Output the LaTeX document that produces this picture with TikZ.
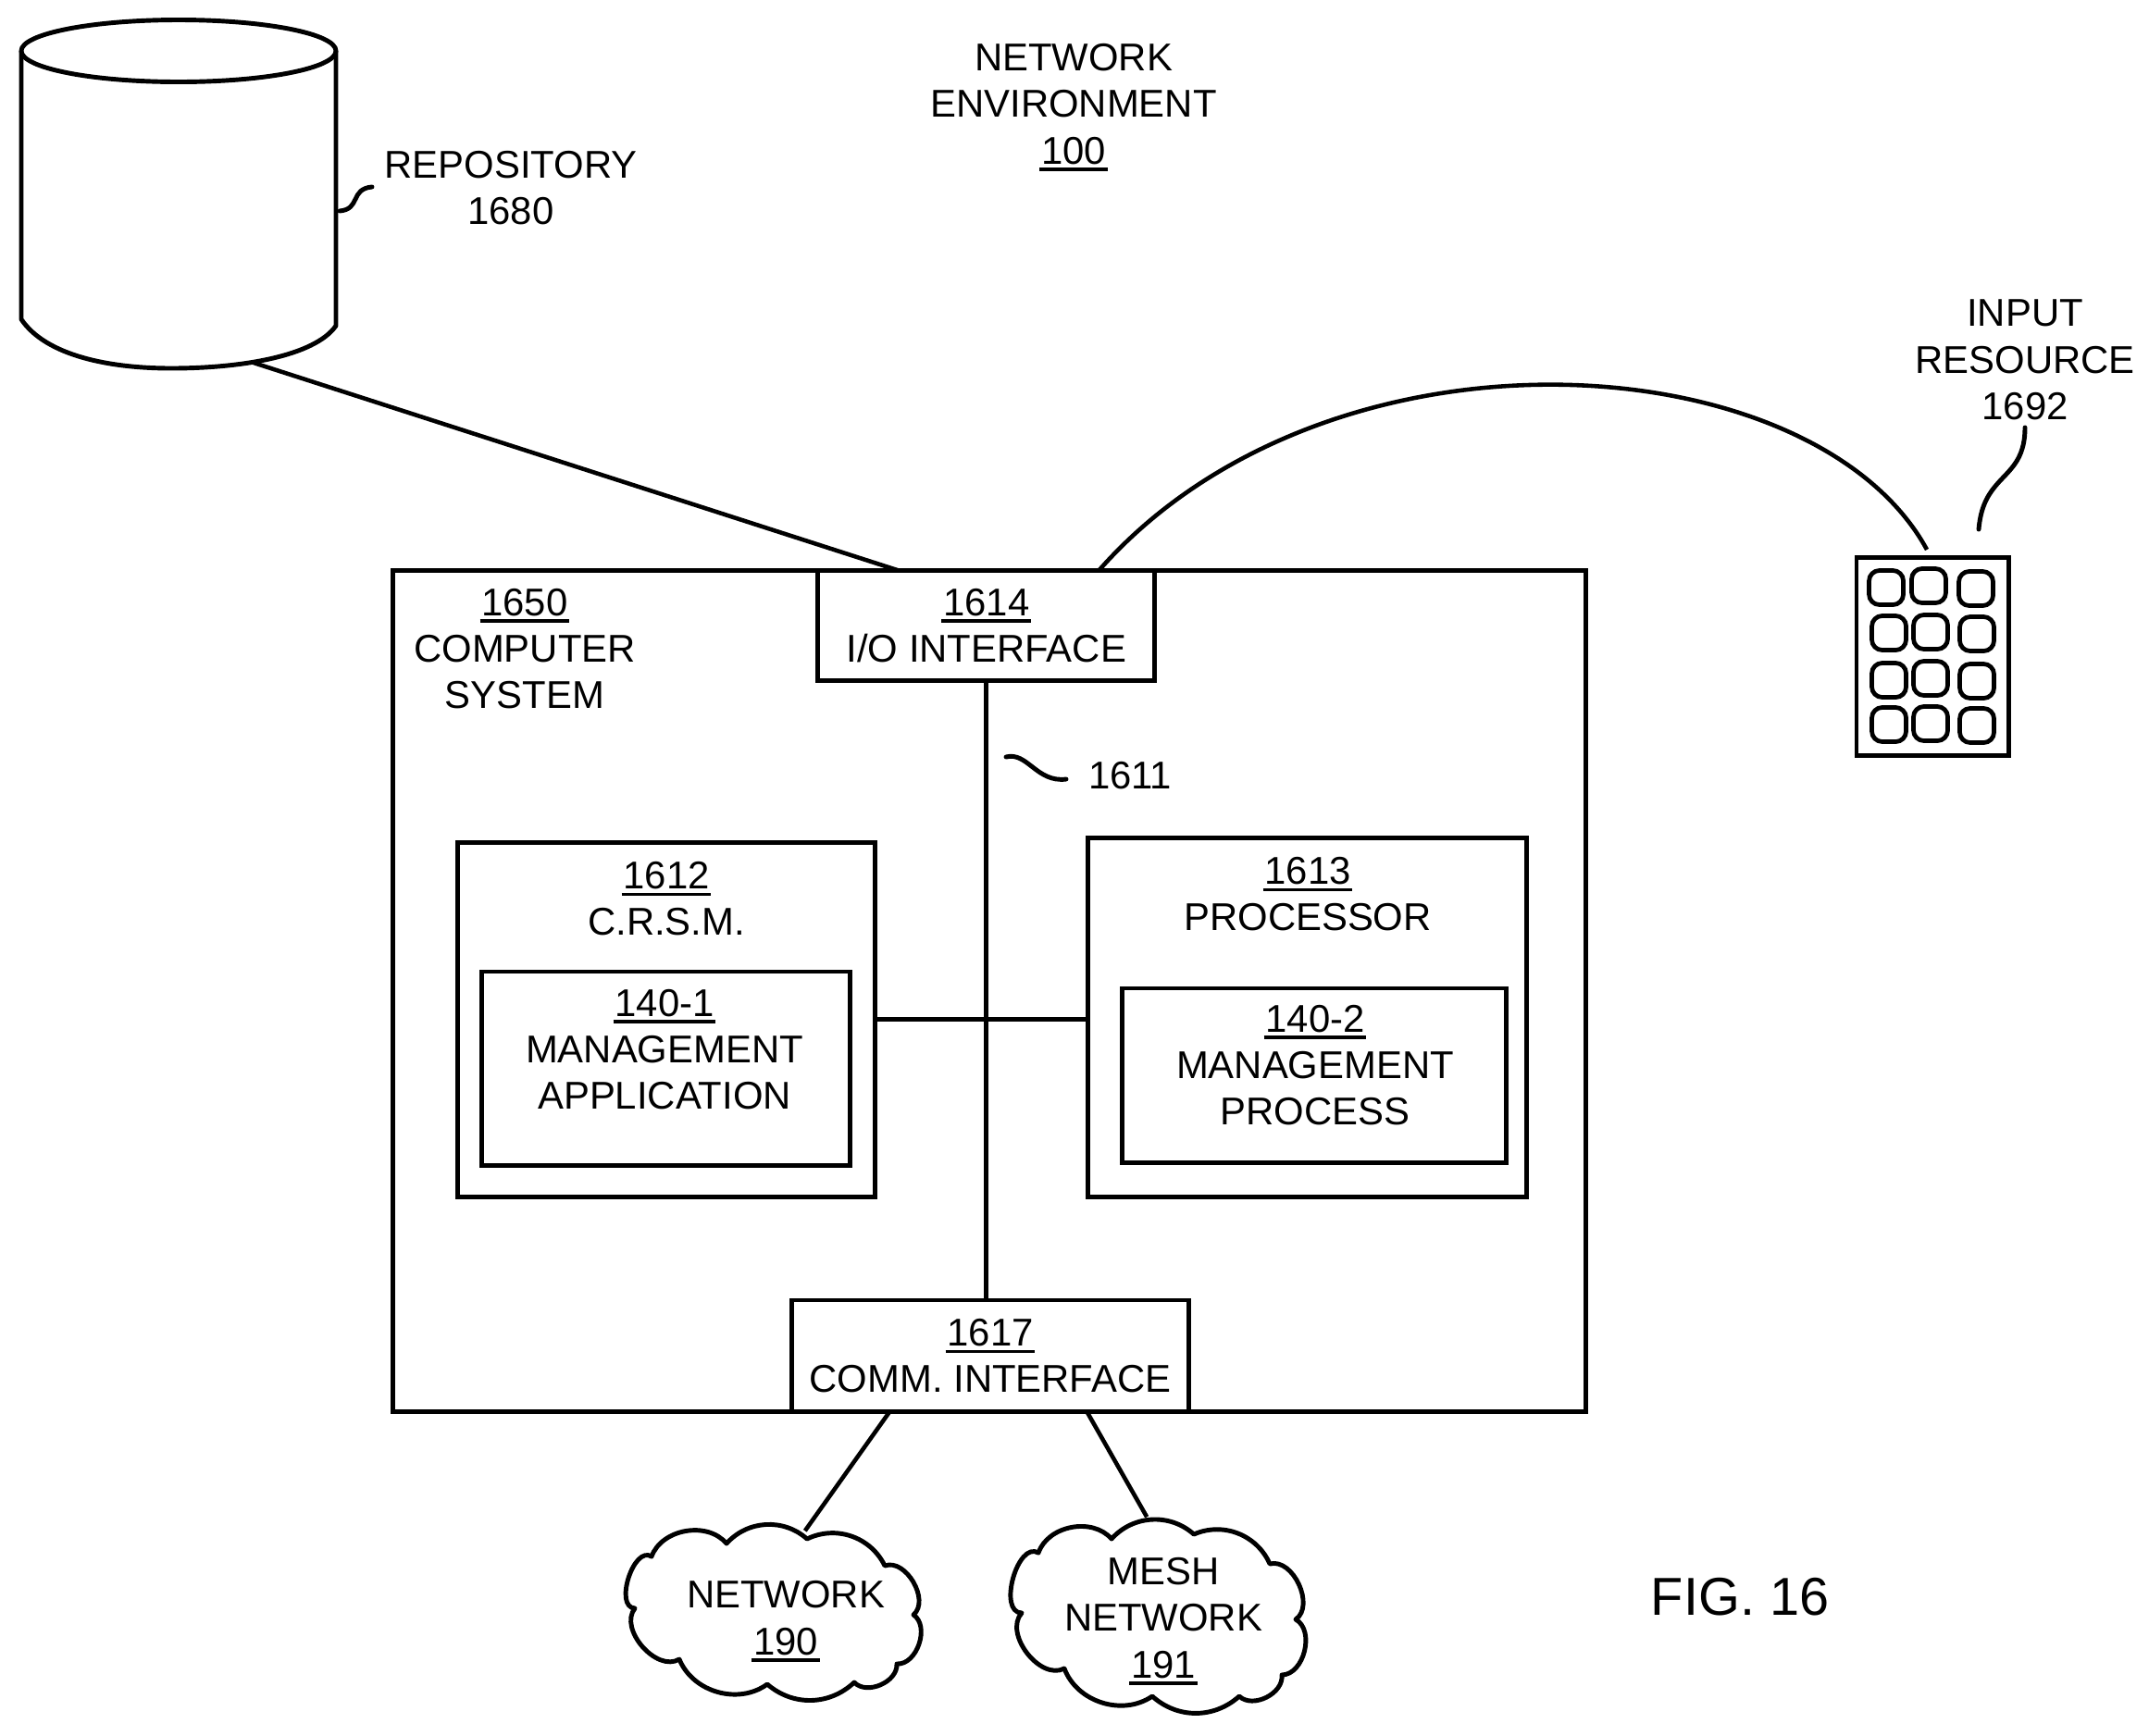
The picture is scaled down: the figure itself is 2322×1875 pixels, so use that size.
\documentclass[tikz,border=0pt]{standalone}
\usepackage{fontspec}
\setmainfont{Liberation Sans}

\newcommand{\refnum}[1]{\setbox0\hbox{#1}\kern-0.5pt\rlap{\rule[-2.15pt]{\dimexpr\wd0+1pt\relax}{0.95pt}}\kern0.5pt\box0}

\tikzset{
    box/.style={draw=black, line width=1.4pt, inner sep=0pt, outer sep=0pt},
    txt/.style={align=center, inner sep=0pt, font=\fontsize{11.9}{14.3}\selectfont},
    link/.style={draw=black, line width=1.3pt},
    leader/.style={draw=black, line width=1.4pt, line cap=round},
    keycap/.style={draw=black, line width=1.35pt, rounded corners=3.2pt, minimum width=0.37cm, minimum height=0.37cm, inner sep=0pt}
}

\begin{document}
\begin{tikzpicture}[x=0.01cm, y=-0.01cm]
    \useasboundingbox (0,0) rectangle (2322,1875);

    % repository
    \draw [box, line join=round] (193,55) ellipse [x radius=170, y radius=33.5];
    \draw [box, line join=round] (23,55) -- (23,345) .. controls (50,385) and (120,398) .. (185,398)
        .. controls (260,398) and (340,385) .. (363,352) -- (363,55);
    \coordinate (repobase) at (274,392);
    \node [txt] (repolabel) at (552,203) {REPOSITORY\\1680};
    \draw [leader] (367,228) .. controls (390,226) and (378,204) .. (402,202);

    % title
    \node [txt] (title) at (1160,116) {NETWORK\\ENVIRONMENT\\\refnum{100}};

    % computer system
    \node [box, minimum width=12.88cm, minimum height=9.085cm] (computer) at (1069,1071.25) {};
    \node [txt] (computerlabel) at (567,701) {\refnum{1650}\\COMPUTER\\SYSTEM};

    % I/O and comm
    \node [box, txt, fill=white, minimum width=3.635cm, minimum height=1.185cm] (io) at (1065.75,675.75) {\refnum{1614}\\I/O INTERFACE};
    \node [box, txt, fill=white, minimum width=4.28cm, minimum height=1.205cm] (comm) at (1070,1465.25) {\refnum{1617}\\COMM. INTERFACE};

    % C.R.S.M.
    \node [box, minimum width=4.50cm, minimum height=3.825cm] (crsm) at (720,1101.75) {};
    \node [txt] (crsmlabel) at (720,971) {\refnum{1612}\\C.R.S.M.};
    \node [box, minimum width=3.97cm, minimum height=2.09cm] (app) at (719.5,1154.5) {};
    \node [txt] (applabel) at (718,1134) {\refnum{140-1}\\MANAGEMENT\\APPLICATION};

    % processor
    \node [box, minimum width=4.735cm, minimum height=3.875cm] (proc) at (1412.75,1099.75) {};
    \node [txt] (proclabel) at (1413,966) {\refnum{1613}\\PROCESSOR};
    \node [box, minimum width=4.145cm, minimum height=1.88cm] (process) at (1420,1162) {};
    \node [txt] (processlabel) at (1421,1151) {\refnum{140-2}\\MANAGEMENT\\PROCESS};

    % bus
    \draw [link] (io.south) -- (io.south |- comm.north);
    \draw [link] (crsm.east) -- (crsm.east -| proc.west);
    \draw [leader] (1087,818) .. controls (1110,812) and (1120,846) .. (1152,842);
    \node [txt] (buslabel) at (1221,838) {1611};

    % network
    \draw [box, line join=round] (704,1682) to[bend left=60] (785,1668) to[bend left=45] (872,1663)
        to[bend left=45] (956,1692) to[bend left=80] (987,1745) to[bend left=75] (969,1798)
        to[bend left=70] (923,1818) to[bend left=42] (829,1820) to[bend left=52] (734,1793)
        to[bend left=80] (686,1738) to[bend left=105] (704,1682) -- cycle;
    \node [txt, minimum height=1.94cm] (net) at (849,1752) {NETWORK\\\refnum{190}};

    % mesh network
    \draw [box, line join=round] (1122,1678) to[bend left=60] (1201,1663) to[bend left=45] (1290,1658)
        to[bend left=45] (1372,1690) to[bend left=80] (1400,1750) to[bend left=75] (1385,1810)
        to[bend left=70] (1339,1833) to[bend left=42] (1245,1833) to[bend left=52] (1150,1803)
        to[bend left=80] (1104,1743) to[bend left=105] (1122,1678) -- cycle;
    \node [txt, minimum height=2.24cm] (mesh) at (1257,1752) {MESH\\NETWORK\\\refnum{191}};

    \draw [link] (comm.209) -- (net.78);
    \draw [link] (comm.-30) -- (mesh.99.6);

    % keypad
    \node [box, minimum width=1.64cm, minimum height=2.135cm] (keypad) at (2088,709.75) {};
    \foreach \keyname/\kx/\ky in {a1/2038/635, a2/2084/633, a3/2135/636,
                                  b1/2041/684, b2/2086/683, b3/2136/685,
                                  c1/2041/735, c2/2086/733, c3/2136/736,
                                  d1/2041/783, d2/2086/782, d3/2136/784}
        \node [keycap] (key\keyname) at (\kx,\ky) {};
    \node [txt] (inputlabel) at (2188,389) {INPUT\\RESOURCE\\1692};
    \draw [leader] (2138,572) .. controls (2143,510) and (2188,520) .. (2188,462);

    % links to repository and keypad
    \draw [link] (repobase) -- (io.148);
    \draw [link] (io.26) .. controls (1435,335) and (1960,370) .. ([xshift=-0.06cm,yshift=0.09cm]keypad.north);

    % figure label
    \node [txt, font=\fontsize{16.4}{19}\selectfont] (fig) at (1880,1726) {FIG. 16};
\end{tikzpicture}
\end{document}
